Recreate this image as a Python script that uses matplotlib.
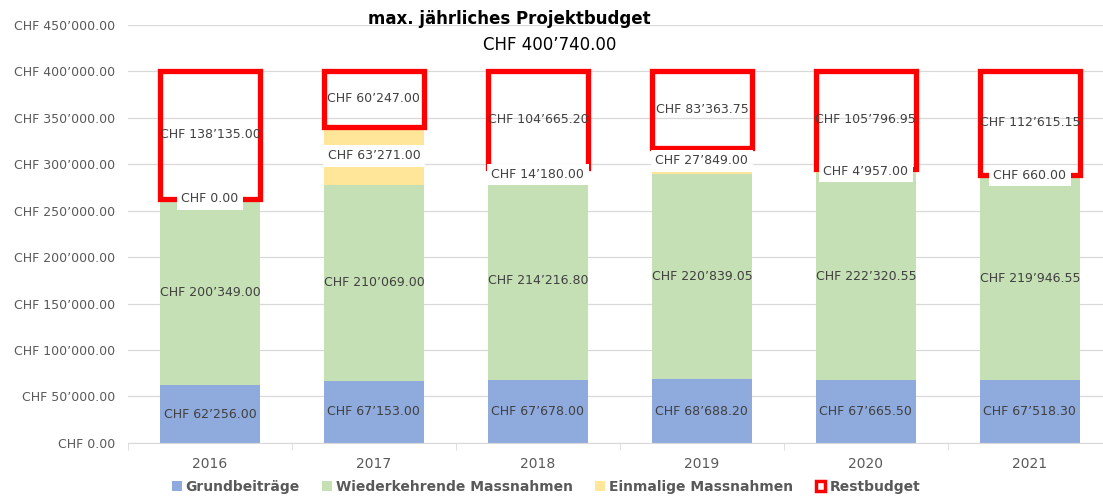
import matplotlib.pyplot as plt
from matplotlib.patches import Patch
import numpy as np

years = ['2016', '2017', '2018', '2019', '2020', '2021']
grund = [62256.00, 67153.00, 67678.00, 68688.20, 67665.50, 67518.30]
wieder = [200349.00, 210069.00, 214216.80, 220839.05, 222320.55, 219946.55]
einmal = [0.00, 63271.00, 14180.00, 27849.00, 4957.00, 660.00]
rest = [138135.00, 60247.00, 104665.20, 83363.75, 105796.95, 112615.15]
budget = 400740.00

series_names = ['Grundbeiträge', 'Wiederkehrende Massnahmen', 'Einmalige Massnahmen', 'Restbudget']
c_blue, c_green, c_yellow, c_red = '#8FAADC', '#C5E0B4', '#FFE699', '#FF0000'
txt = '#404040'
axc = '#595959'


def chf(v):
    return 'CHF ' + f'{v:,.2f}'.replace(',', '\u2019')


fig = plt.figure(figsize=(11.03, 4.96), dpi=100)
ax = fig.add_axes([0.116, 0.107, 0.892, 0.843])

x = np.arange(len(years))
w = 0.61
g = np.array(grund)
wd = np.array(wieder)
e = np.array(einmal)
r = np.array(rest)

ax.bar(x, g, w, color=c_blue, zorder=2)
ax.bar(x, wd, w, bottom=g, color=c_green, zorder=2)
ax.bar(x, e, w, bottom=g + wd, color=c_yellow, zorder=2)
ax.bar(x, r, w, bottom=g + wd + e, fill=False, edgecolor=c_red, linewidth=3.8, zorder=3)

for i in range(len(years)):
    ax.text(x[i], g[i] / 2, chf(g[i]), ha='center', va='center', fontsize=9, color=txt, zorder=5)
    ax.text(x[i], g[i] + wd[i] / 2, chf(wd[i]), ha='center', va='center', fontsize=9, color=txt, zorder=5)
    ax.text(x[i], g[i] + wd[i] + e[i] / 2, chf(e[i]), ha='center', va='center', fontsize=9, color=txt, zorder=5,
            bbox=dict(boxstyle='square,pad=0.35', facecolor='white', edgecolor='none'))
    ax.text(x[i], g[i] + wd[i] + e[i] + r[i] / 2, chf(r[i]), ha='center', va='center', fontsize=9, color=txt, zorder=5)

ax.set_xlim(-0.5, 5.5)
ax.set_ylim(0, 450000)
ax.set_yticks(np.arange(0, 450001, 50000))
ax.set_yticklabels([chf(v) for v in np.arange(0, 450001, 50000)], fontsize=9, color=axc)
ax.set_xticks(x)
ax.set_xticklabels(years, fontsize=10, color=axc)
ax.tick_params(axis='y', length=0, pad=9)
ax.tick_params(axis='x', length=0, pad=10)
ax.set_xticks(np.arange(-0.5, 6.0, 1.0), minor=True)
ax.tick_params(axis='x', which='minor', length=5, color='#D9D9D9')
ax.grid(axis='y', color='#D9D9D9', linewidth=0.9, zorder=0)
ax.set_axisbelow(True)
for s in ['top', 'right', 'left']:
    ax.spines[s].set_visible(False)
ax.spines['bottom'].set_color('#D9D9D9')

fig.text(0.462, 0.962, 'max. jährliches Projektbudget', ha='center', va='center', fontsize=12,
         fontweight='bold', color='black')
fig.text(0.498, 0.91, chf(budget), ha='center', va='center', fontsize=12, color='black')

handles = [Patch(facecolor=c_blue), Patch(facecolor=c_green), Patch(facecolor=c_yellow),
           Patch(facecolor='white', edgecolor=c_red, linewidth=2.5)]
leg = fig.legend(handles, series_names, loc='center', bbox_to_anchor=(0.495, 0.018), ncol=4, frameon=False,
                 handlelength=0.7, handleheight=0.7, handletextpad=0.3, columnspacing=1.6,
                 prop={'size': 10, 'weight': 'bold'})
for t in leg.get_texts():
    t.set_color(axc)

fig.savefig('out.png', dpi=100)
